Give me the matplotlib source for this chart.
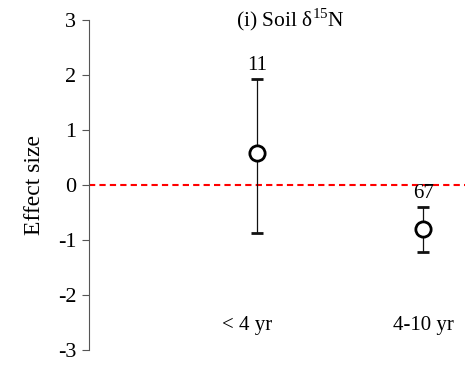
import matplotlib
matplotlib.use("Agg")
import matplotlib.pyplot as plt

categories = ["< 4 yr", "4-10 yr"]
means = [0.58, -0.80]
upper = [1.93, -0.40]
lower = [-0.87, -1.22]
counts = ["11", "67"]
yticks = [-3, -2, -1, 0, 1, 2, 3]

plt.rcParams['font.family'] = ['Liberation Serif', 'DejaVu Serif']
plt.rcParams['mathtext.fontset'] = 'custom'
plt.rcParams['mathtext.rm'] = 'Liberation Serif'

fig = plt.figure(figsize=(4.65, 3.69), dpi=100)
ax = fig.add_axes([0.191, 0.0515, 0.809, 0.8945])

xs = [1, 2]
yerr = [[m - l for m, l in zip(means, lower)], [u - m for m, u in zip(means, upper)]]
ax.axhline(0, color='#ff0000', linestyle=(0, (3, 2)), linewidth=1.5, zorder=1)
ax.errorbar(xs, means, yerr=yerr, fmt='o', color='black', ecolor='#111111',
            elinewidth=0.9, capsize=4.5, capthick=0.9, markersize=11,
            markerfacecolor='white', markeredgecolor='black', markeredgewidth=2, zorder=3)

for x, u, c in zip(xs, upper, counts):
    ax.annotate(c, (x, u), xytext=(0, 3), textcoords='offset points',
                ha='center', va='bottom', fontsize=15)

label_offsets = [-0.06, 0.0]
for x, lab, off in zip(xs, categories, label_offsets):
    ax.text(x + off, -2.55, lab, ha='center', va='center', fontsize=15)

ax.set_xlim(-0.01, 2.25)
ax.set_ylim(-3, 3)
ax.set_yticks(yticks)
ax.set_yticklabels([str(t) for t in yticks], fontsize=16)
ax.set_xticks([])
for s in ['top', 'right', 'bottom']:
    ax.spines[s].set_visible(False)
ax.spines['left'].set_color('#555555')
ax.tick_params(axis='y', direction='out', length=5, color='#555555', pad=4)
ax.set_ylabel('Effect size', fontsize=17, labelpad=9)

ax.text(0.535, 1.0, r'(i) Soil δ$^{15}$N', transform=ax.transAxes,
        ha='center', va='center', fontsize=15.5)

fig.savefig('out.png', dpi=100)
